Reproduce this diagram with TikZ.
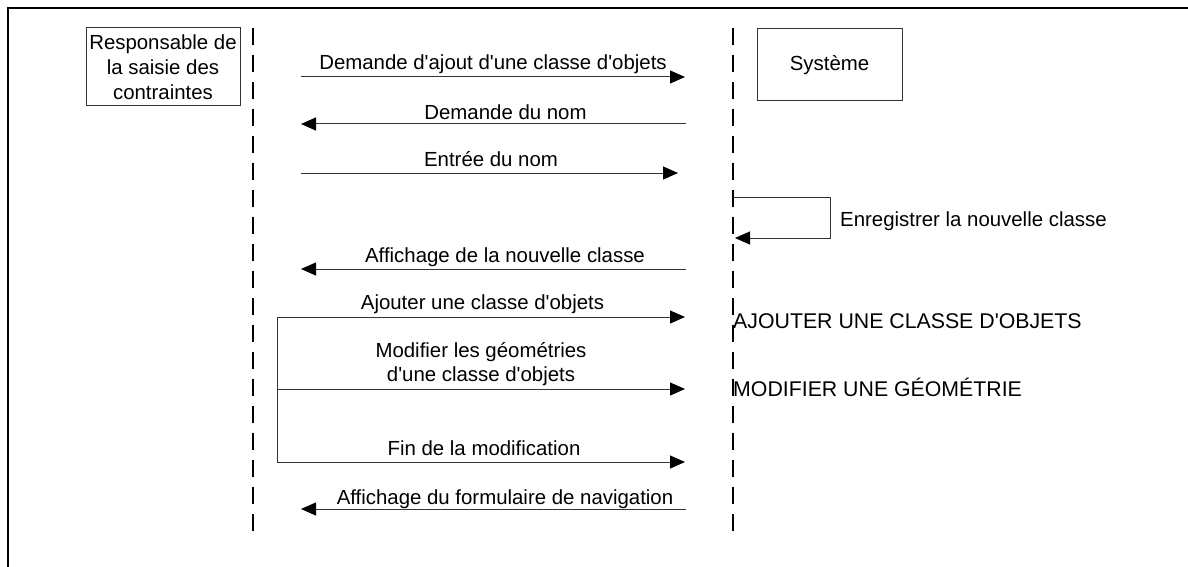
\documentclass[tikz,border=0pt]{standalone}
\usepackage{fontspec}
\setmainfont{Liberation Sans}[Ligatures=TeXOff]
\usetikzlibrary{arrows.meta}
\begin{document}
\begin{tikzpicture}[x=1pt,y=-1pt,
  frame/.style={line width=2.4pt},
  lifeline/.style={line width=2pt, dash pattern=on 17pt off 10pt},
  actorbox/.style={draw=black!80, line width=1pt, inner sep=0pt, align=center,
    font=\fontsize{20.4}{25}\selectfont},
  msgline/.style={draw=black!80, line width=1pt},
  msg/.style={msgline, -{Triangle[length=15pt,width=13pt,black]}},
  lbl/.style={font=\fontsize{20.4}{24.5}\selectfont, inner sep=0pt, align=center},
  bigcaps/.style={font=\fontsize{21.3}{25}\selectfont, inner sep=0pt}
]
\useasboundingbox (0,0) rectangle (1188,567);

% outer frame: top and left edges only
\draw[frame] (8,567) -- (8,8) -- (1188,8);

% participants
\node[actorbox, minimum width=154pt, minimum height=78pt] (actor) at (163,67)
  {Responsable de\\la saisie des\\contraintes};
\node[actorbox, minimum width=145pt, minimum height=72pt] (sys) at (829.5,65)
  {Système};

% lifelines
\coordinate (la) at (253,28);
\coordinate (lb) at (253,534);
\coordinate (sa) at (733,28);
\coordinate (sb) at (733,534);
\draw[lifeline] (la) -- (lb);
\draw[lifeline] (sa) -- (sb);

% message end points
\coordinate (m1a) at (301,77);  \coordinate (m1b) at (685,77);
\coordinate (m2a) at (686,124); \coordinate (m2b) at (301,124);
\coordinate (m3a) at (301,173); \coordinate (m3b) at (678,173);
\coordinate (s1) at (733,197);  \coordinate (s2) at (830,197);
\coordinate (s3) at (830,238);  \coordinate (s4) at (735,238);
\coordinate (m5a) at (686,269); \coordinate (m5b) at (301,269);
\coordinate (b1) at (277,317);  \coordinate (b1e) at (685,317);
\coordinate (b2) at (277,389);  \coordinate (b2e) at (685,389);
\coordinate (b3) at (277,462);  \coordinate (b3e) at (685,462);
\coordinate (m7a) at (686,509); \coordinate (m7b) at (301,509);

% messages
\draw[msg] (m1a) -- (m1b);
\draw[msg] (m2a) -- (m2b);
\draw[msg] (m3a) -- (m3b);
\draw[msg] (s1) -- (s2) -- (s3) -- (s4);
\draw[msg] (m5a) -- (m5b);
\draw[msgline] (b1) -- (b3);
\draw[msg] (b1) -- (b1e);
\draw[msg] (b2) -- (b2e);
\draw[msg] (b3) -- (b3e);
\draw[msg] (m7a) -- (m7b);

% message labels
\node[lbl, anchor=base] (t1) at (493,69.3) {Demande d'ajout d'une classe d'objets};
\node[lbl, anchor=base] (t2) at (505.5,119.3) {Demande du nom};
\node[lbl, anchor=base] (t3) at (491,166) {Entrée du nom};
\node[lbl, anchor=base west] (t4) at (840,226.7) {Enregistrer la nouvelle classe};
\node[lbl, anchor=base] (t5) at (505,262.3) {Affichage de la nouvelle classe};
\node[lbl, anchor=base] (t6) at (482.5,309) {Ajouter une classe d'objets};
\node[lbl] (t7) at (481,364) {Modifier les géométries\\d'une classe d'objets};
\node[lbl, anchor=base] (t8) at (484,455) {Fin de la modification};
\node[lbl, anchor=base] (t9) at (505,504) {Affichage du formulaire de navigation};

% sub-sequence references
\node[bigcaps, anchor=base west] (r1) at (733,328.3) {AJOUTER UNE CLASSE D'OBJETS};
\node[bigcaps, anchor=base west] (r2) at (733,396.7) {MODIFIER UNE GÉOMÉTRIE};
\end{tikzpicture}
\end{document}
